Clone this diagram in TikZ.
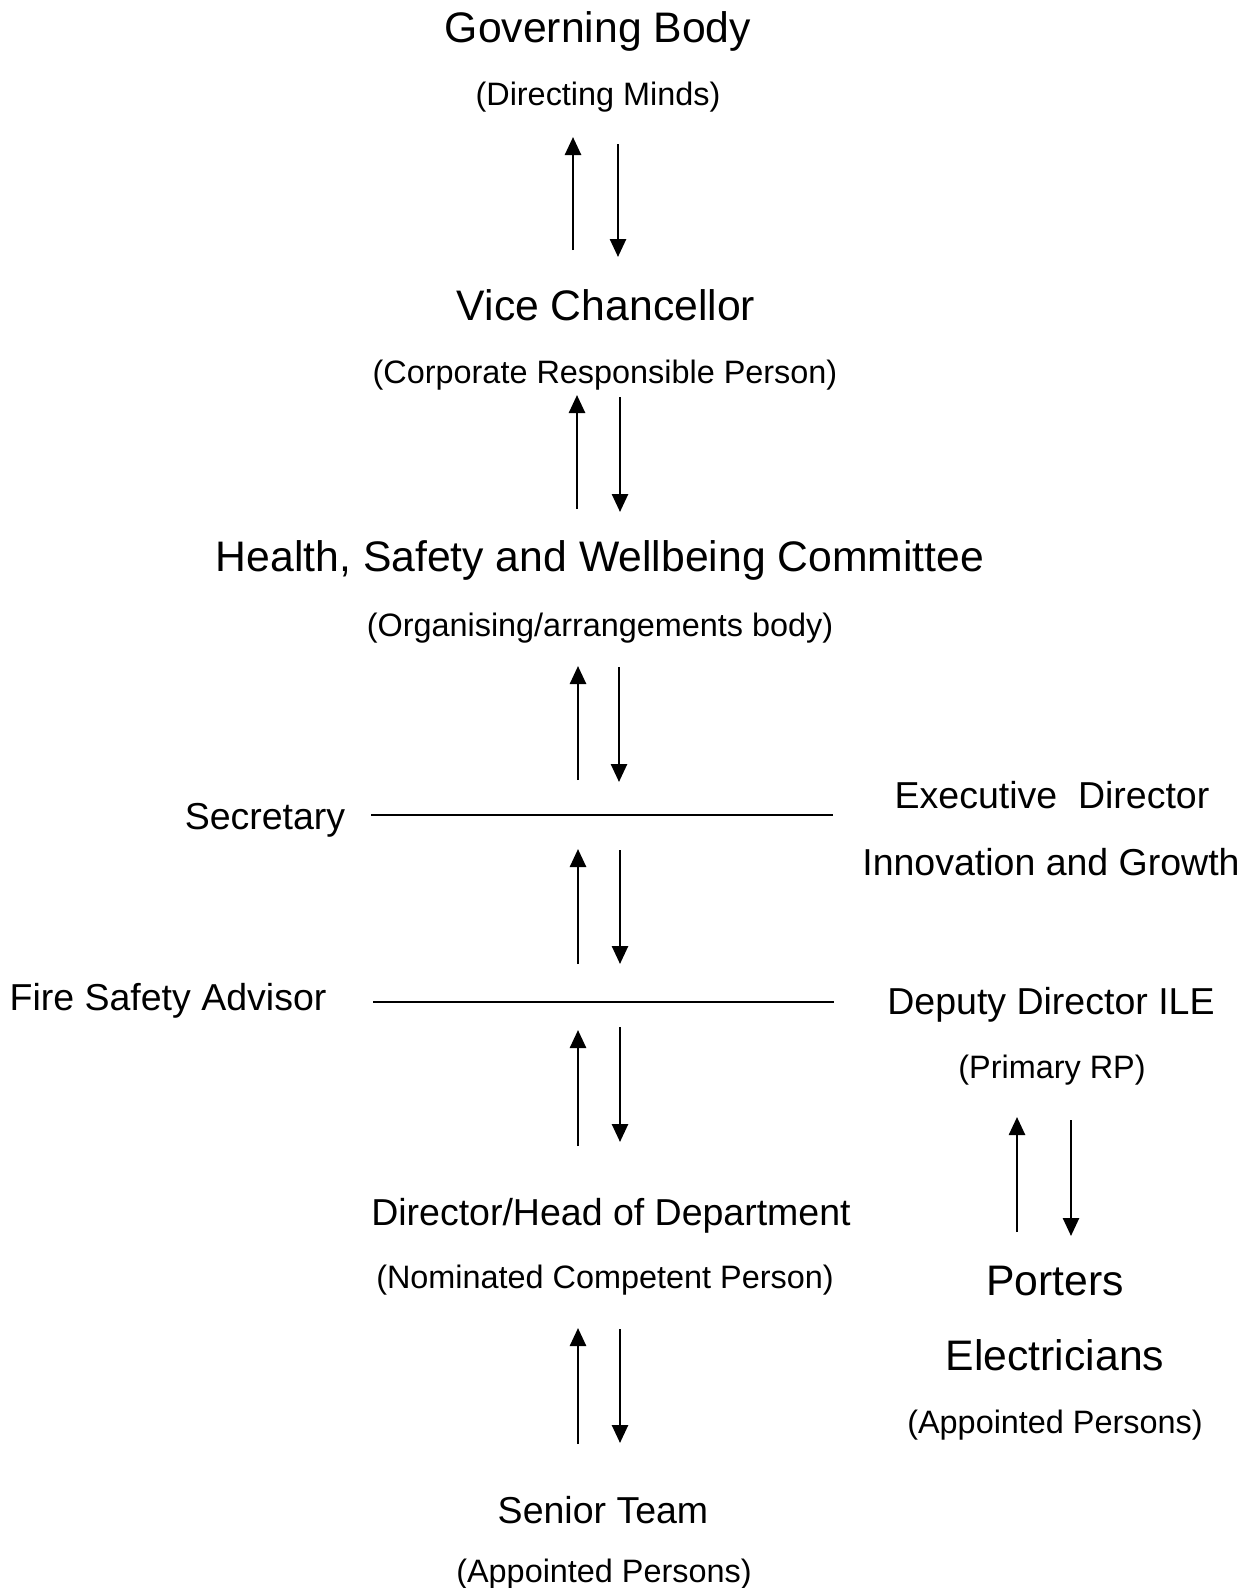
\documentclass[tikz,border=0pt]{standalone}
\usepackage{fontspec}
\setmainfont{Liberation Sans}
\usetikzlibrary{arrows.meta}

\tikzset{
  big/.style={inner sep=0pt, font=\fontsize{42.7}{50}\selectfont},
  mid/.style={inner sep=0pt, font=\fontsize{37.5}{44}\selectfont},
  small/.style={inner sep=0pt, font=\fontsize{32.4}{38}\selectfont},
  flow/.style={line width=2.6pt, -{Triangle[length=18pt,width=16pt]}},
  rule/.style={line width=2pt}
}

\begin{document}
\begin{tikzpicture}[x=1pt,y=-1pt]
\useasboundingbox (0,0) rectangle (1254,1588);

% main chain
\node[big] (gb) at (598,31) {Governing Body};
\node[small] (gbr) at (598,97) {(Directing Minds)};
\node[big] (vc) at (606,305) {Vice Chancellor};
\node[small] (vcr) at (605,375) {(Corporate Responsible Person)};
\node[big] (hsw) at (600,560) {Health, Safety and Wellbeing Committee};
\node[small] (hswr) at (600,628) {(Organising/arrangements body)};
\node[mid] (dir) at (611,1216) {Director/Head of Department};
\node[small] (dirr) at (605,1280) {(Nominated Competent Person)};
\node[mid] (st) at (603,1510) {Senior Team};
\node[small] (str) at (604,1574) {(Appointed Persons)};

% side roles
\node[mid] (sec) at (265,820) {Secretary};
\node[mid] (exec) at (1052,795) {Executive\ \ Director};
\node[mid] (ig) at (1051,862) {Innovation and Growth};
\node[mid] (fsa) at (168,1001) {Fire Safety Advisor};
\node[mid] (dd) at (1051,1005) {Deputy Director ILE};
\node[small] (ddr) at (1052,1070) {(Primary RP)};
\node[big] (por) at (1055,1281) {Porters};
\node[big] (ele) at (1055,1355) {Electricians};
\node[small] (eler) at (1055,1425) {(Appointed Persons)};

% horizontal rules
\coordinate (s1) at (371,815);
\coordinate (e1) at (833,815);
\coordinate (s2) at (373,1002);
\coordinate (e2) at (834,1002);
\draw[rule] (s1) -- (e1);
\draw[rule] (s2) -- (e2);

% arrow pairs, up then down
\coordinate (u1a) at (573,250); \coordinate (u1b) at (573,137);
\coordinate (d1a) at (618,144); \coordinate (d1b) at (618,257);
\coordinate (u2a) at (577,509); \coordinate (u2b) at (577,395);
\coordinate (d2a) at (620,397); \coordinate (d2b) at (620,512);
\coordinate (u3a) at (578,780); \coordinate (u3b) at (578,666);
\coordinate (d3a) at (619,667); \coordinate (d3b) at (619,782);
\coordinate (u4a) at (578,964); \coordinate (u4b) at (578,849);
\coordinate (d4a) at (620,850); \coordinate (d4b) at (620,964);
\coordinate (u5a) at (578,1146); \coordinate (u5b) at (578,1030);
\coordinate (d5a) at (620,1027); \coordinate (d5b) at (620,1142);
\coordinate (u6a) at (578,1444); \coordinate (u6b) at (578,1328);
\coordinate (d6a) at (620,1329); \coordinate (d6b) at (620,1443);
\coordinate (u7a) at (1017,1232); \coordinate (u7b) at (1017,1117);
\coordinate (d7a) at (1071,1120); \coordinate (d7b) at (1071,1236);

\foreach \i in {1,...,7} {
  \draw[flow] (u\i a) -- (u\i b);
  \draw[flow] (d\i a) -- (d\i b);
}
\end{tikzpicture}
\end{document}
